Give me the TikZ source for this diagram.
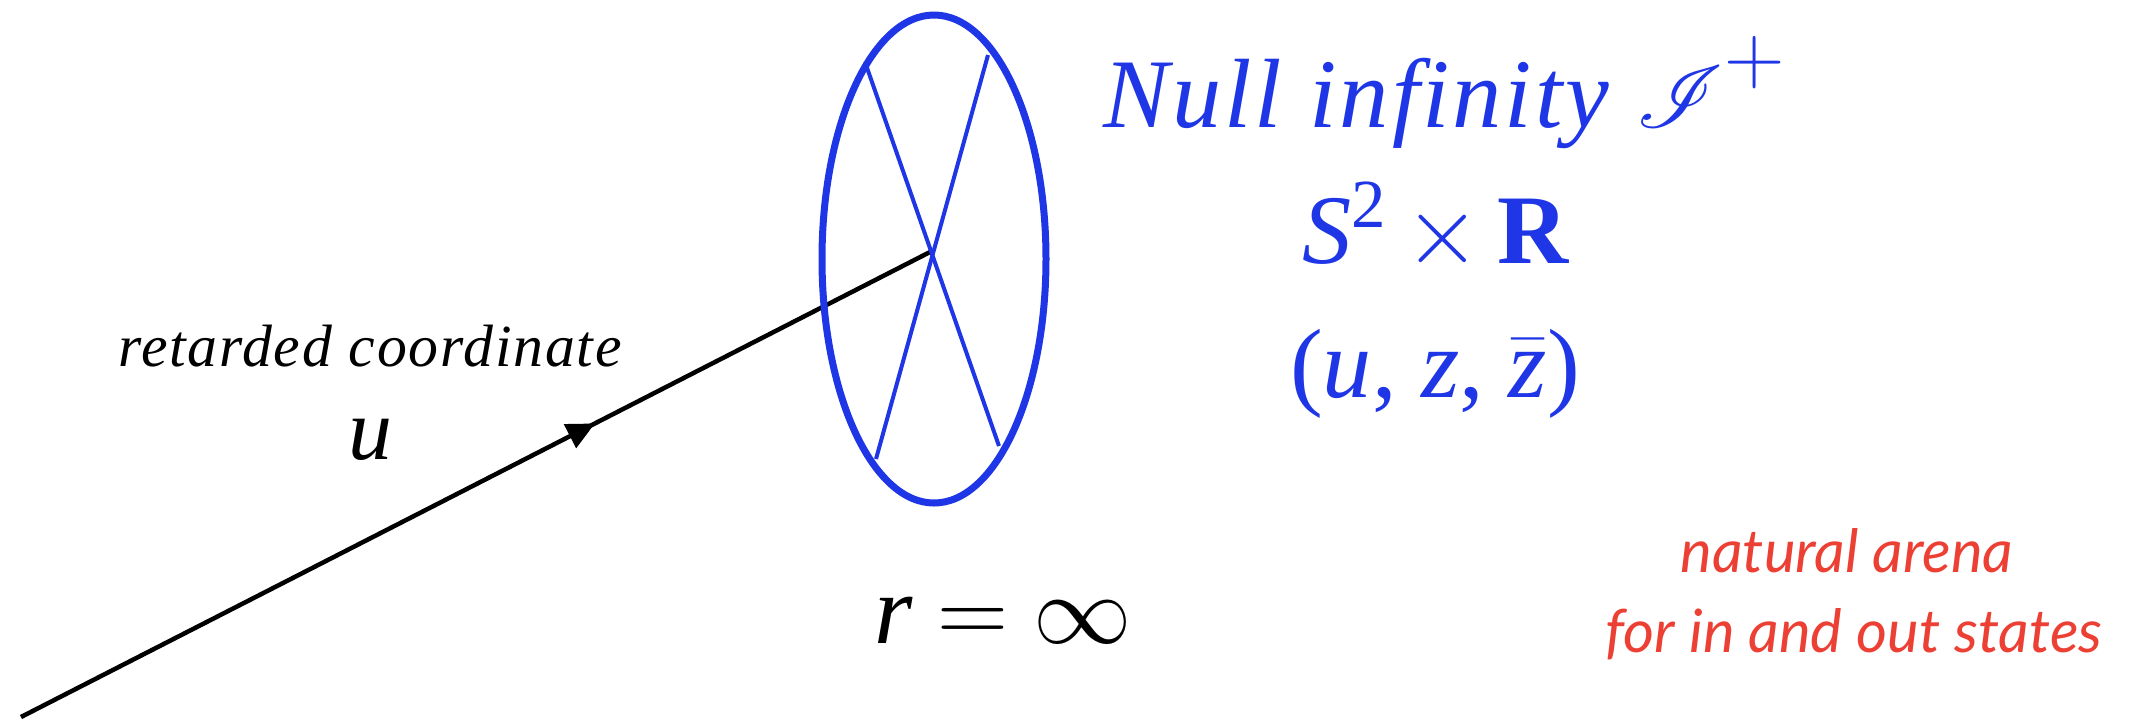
\RequirePackage{fix-cm}
\documentclass[tikz,border=0pt]{standalone}
\usepackage{amsmath}
\usepackage{mathrsfs}
\usepackage{fontspec}
\usetikzlibrary{arrows.meta, decorations.markings}
\setmainfont{LiberationSerif}[Extension=.ttf, UprightFont=*-Regular,
  ItalicFont=*-Italic, BoldFont=*-Bold, BoldItalicFont=*-BoldItalic]
\newfontfamily\widefont{LiberationSerif}[Extension=.ttf, UprightFont=*-Italic, LetterSpace=3]
\newfontfamily\arenafont{Lato}
\definecolor{scriblue}{RGB}{31, 54, 230}
\definecolor{arenared}{RGB}{237, 64, 52}

\begin{document}
\begin{tikzpicture}[x=0.1mm, y=-0.1mm,
    scri/.style={scriblue, line width=0.7mm},
    spoke/.style={scriblue, line width=0.4mm},
    ray/.style={black, line width=0.45mm, postaction={decorate},
      decoration={markings, mark=at position 0.63 with {\arrow{Triangle[length=2.8mm, width=2.6mm]}}}},
    bluetext/.style={anchor=base, text=scriblue, font=\fontsize{28}{34}\selectfont}]
    \useasboundingbox (0,0) rectangle (2147,720);

    % Incoming light ray
    \coordinate (tail) at (21,717);
    \coordinate (hub) at (932,251);
    \draw[ray] (tail) -- (hub);

    % Celestial sphere at r = infinity
    \coordinate (scri) at (934,259);
    \draw[scri] (scri) ellipse [x radius=112, y radius=244];
    \coordinate (ul) at (865,62);
    \coordinate (lr) at (999,446);
    \coordinate (ur) at (988,55);
    \coordinate (ll) at (876,459);
    \draw[spoke] (ul) -- (lr);
    \draw[spoke] (ur) -- (ll);

    % Labels
    \node[anchor=base, font=\widefont\fontsize{17}{20}\selectfont] (retlabel) at (370,366) {retarded coordinate};
    \node[anchor=base, font=\itshape\fontsize{25}{30}\selectfont] (ulabel) at (370,459) {u};
    \node[anchor=base, font=\fontsize{28}{34}\selectfont] (rlabel) at (1003,643) {\textit{r} $=$ $\infty$};

    \node[bluetext, anchor=base west, inner sep=0pt, font=\widefont\fontsize{28}{34}\selectfont] (scrilabel) at (1103,127) {Null infinity {\fontsize{34}{40}\selectfont$\mathscr{I}^{+}$}};
    \node[bluetext] (spacelabel) at (1436,263) {\textit{S}\textsuperscript{2}\,$\times$\,\textbf{R}};
    \node[bluetext] (coordlabel) at (1435,397) {(\textit{u}, \textit{z}, $\bar{\mbox{\itshape z}}$)};

    \node[anchor=base, text=arenared, font=\arenafont\itshape\fontsize{17}{20}\selectfont] (arenaone) at (1847,572) {natural arena};
    \node[anchor=base, text=arenared, font=\arenafont\itshape\fontsize{17}{20}\selectfont] (arenatwo) at (1854,652) {for in and out states};
\end{tikzpicture}
\end{document}
